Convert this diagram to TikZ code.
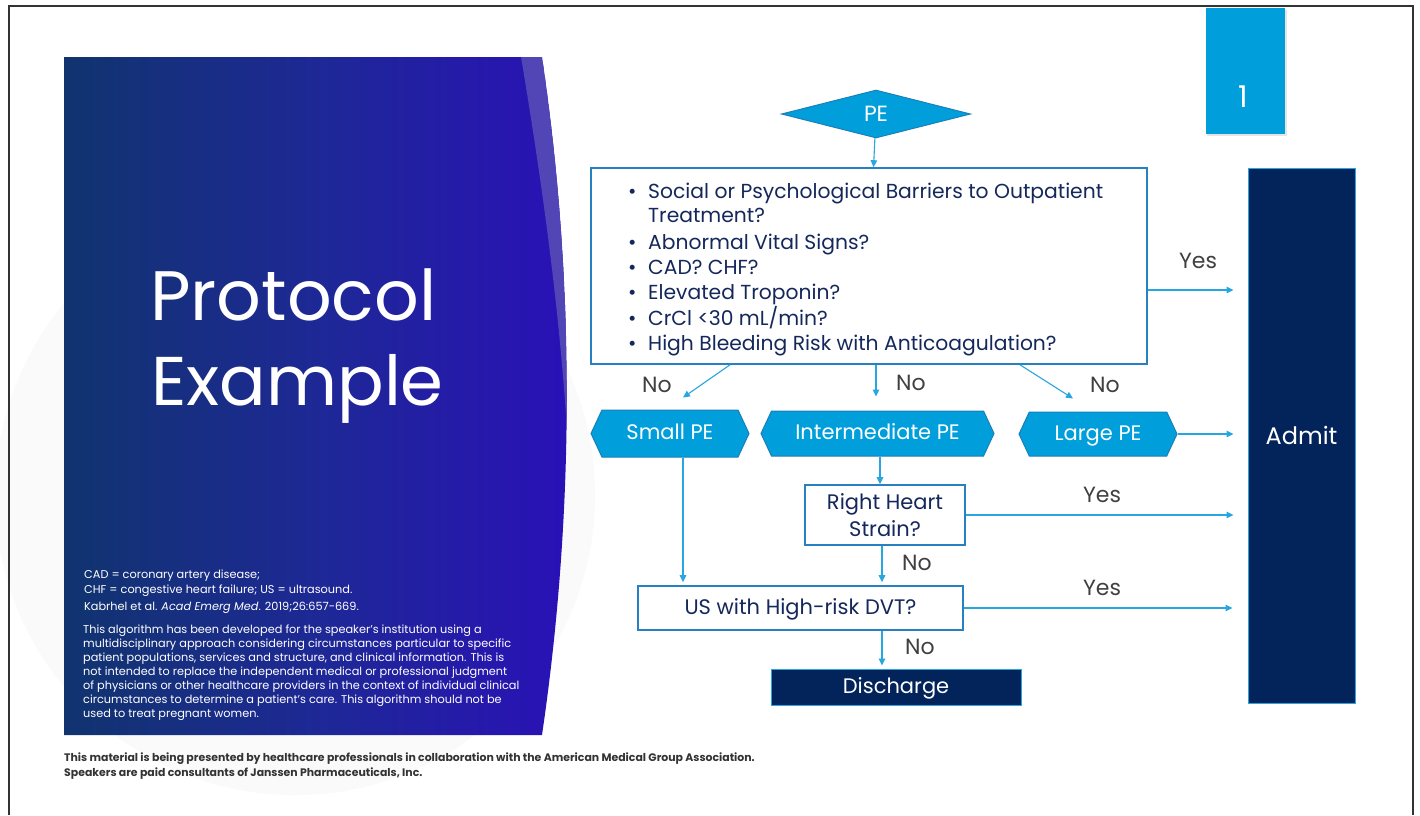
\documentclass[tikz,border=0pt]{standalone}
\usepackage{fontspec}
\setmainfont{Poppins}
\usetikzlibrary{arrows.meta,shapes.geometric,shapes.symbols,calc}

\definecolor{cyanfill}{HTML}{009FDB}
\definecolor{cyanedge}{HTML}{1B7FB8}
\definecolor{boxedge}{HTML}{2680C2}
\definecolor{navy}{HTML}{03245A}
\definecolor{ink}{HTML}{15285C}
\definecolor{arrowc}{HTML}{27A6E0}
\definecolor{labelc}{HTML}{404040}
\definecolor{panelA}{HTML}{11346F}
\definecolor{panelB}{HTML}{1E2896}
\definecolor{panelC}{HTML}{2A10B8}
\definecolor{stripe}{HTML}{5245B5}
\definecolor{footc}{HTML}{333333}

\begin{document}
\begin{tikzpicture}[x=1pt,y=-1pt,
  arr/.style={draw=arrowc, line width=1.1pt, -{Triangle[length=7pt,width=6.5pt]}},
  qbox/.style={draw=boxedge, line width=1.6pt, fill=white, inner sep=0},
  hexa/.style={signal, signal to=west and east, signal pointer angle=130,
    fill=cyanfill, draw=cyanedge, line width=1pt, text=white, inner sep=0,
    text height=15pt, text depth=3pt,
    font=\fontsize{21}{25}\selectfont},
  lbl/.style={text=labelc, font=\fontsize{22}{26}\selectfont, inner sep=0},
  navybox/.style={fill=navy, draw=arrowc, line width=1pt, text=white, inner sep=0},
  qline/.style={anchor=base west, inner sep=0, text=ink, font=\fontsize{20.3}{24}\selectfont},
  small/.style={anchor=base west, inner sep=0, text=white, font=\fontsize{11.3}{14}\selectfont},
  foot/.style={anchor=base west, inner sep=0, text=footc, font=\fontsize{10.9}{13}\bfseries},
]
\useasboundingbox (0,0) rectangle (1420,815);
\fill[white] (0,0) rectangle (1420,815);

% faint glow behind the title panel
\fill[black!2] (295,495) circle (300);

% slide frame
\draw[black!80, line width=1.5pt] (9,815) -- (9,6) -- (1413,6) -- (1413,815);

% title panel with curved right edge
\begin{scope}
  \clip (64,57) -- (542,57) .. controls (575,280) and (575,510) .. (542,735) -- (64,735) -- cycle;
  \shade[left color=panelA, right color=panelC, middle color=panelB] (64,57) rectangle (580,735);
  \fill[stripe] (521,57) .. controls (545,200) and (560,320) .. (567,430)
     .. controls (568,280) and (560,170) .. (542,57) -- cycle;
\end{scope}

% title
\node[anchor=base west, inner sep=0, text=white, font=\fontsize{70}{80}\selectfont] (t1) at (150,320) {Protocol};
\node[anchor=base west, inner sep=0, text=white, font=\fontsize{69}{80}\selectfont] (t2) at (151,405) {Example};

% abbreviations and reference
\node[small] (ab1) at (84,578) {CAD = coronary artery disease;};
\node[small] (ab2) at (84,593) {CHF = congestive heart failure; US = ultrasound.};
\node[small] (ab3) at (84,610) {Kabrhel et al. \textit{Acad Emerg Med}. 2019;26:657-669.};

% disclaimer
\foreach \t [count=\i] in {
  {This algorithm has been developed for the speaker's institution using a},
  {multidisciplinary approach considering circumstances particular to specific},
  {patient populations, services and structure, and clinical information. This is},
  {not intended to replace the independent medical or professional judgment},
  {of physicians or other healthcare providers in the context of individual clinical},
  {circumstances to determine a patient's care. This algorithm should not be},
  {used to treat pregnant women.}}
  \node[small] (disc\i) at (83,619+14*\i) {\t};

% footer
\node[foot] (f1) at (64,761) {This material is being presented by healthcare professionals in collaboration with the American Medical Group Association.};
\node[foot] (f2) at (64,776) {Speakers are paid consultants of Janssen Pharmaceuticals, Inc.};

% slide number tab
\fill[black!10] (1207,10) rectangle (1287,136);
\node[fill=cyanfill, minimum width=79, minimum height=126, inner sep=0] (num) at (1245.5,71) {};
\node[text=white, inner sep=0, font=\fontsize{30}{34}\selectfont] (numt) at (1243,97) {1};

% flowchart nodes
\node[diamond, aspect=3.9, minimum width=189, minimum height=48, inner sep=0,
  fill=cyanfill, draw=cyanedge, line width=1pt, text=white,
  font=\fontsize{22}{26}\selectfont] (pe) at (876,114) {PE};

\node[qbox, minimum width=556, minimum height=196] (q) at (869,266) {};
\foreach \t/\yy in {
  {\makebox[20pt][l]{•}Social or Psychological Barriers to Outpatient}/198,
  {\hspace*{20pt}Treatment?}/222,
  {\makebox[20pt][l]{•}Abnormal Vital Signs?}/249,
  {\makebox[20pt][l]{•}CAD? CHF?}/274,
  {\makebox[20pt][l]{•}Elevated Troponin?}/299,
  {\makebox[20pt][l]{•}CrCl <30 mL/min?}/325,
  {\makebox[20pt][l]{•}High Bleeding Risk with Anticoagulation?}/350}
  \node[qline] (ql\yy) at (628,\yy) {\t};

\node[navybox, minimum width=107, minimum height=535, font=\fontsize{24}{28}\selectfont] (admit) at (1301.5,435.5) {Admit};

\node[hexa, minimum width=158, minimum height=47] (small) at (670,433.5) {Small PE};
\node[hexa, minimum width=233, minimum height=45] (inter) at (877.5,433.5) {Intermediate PE};
\node[hexa, minimum width=158, minimum height=44] (large) at (1098,434) {Large PE};

\node[qbox, minimum width=160, minimum height=60, align=center, text=ink,
  font=\fontsize{21}{27}\selectfont] (rh) at (885,515) {Right Heart\\Strain?};
\node[qbox, minimum width=325, minimum height=44, text=ink,
  text height=15pt, text depth=3pt,
  font=\fontsize{21}{25}\selectfont] (us) at (800.5,608) {US with High-risk DVT?};
\node[navybox, minimum width=250, minimum height=36, text height=15pt, text depth=2pt,
  font=\fontsize{21}{25}\selectfont] (dis) at (896,687) {Discharge};

% connectors
\draw[arr] (pe) -- (q);

\coordinate (y1) at ([yshift=-24pt]q.east);
\draw[arr, shorten >=14pt] (y1) -- (y1 -| admit.west);
\node[lbl] (ly1) at (1198,261) {Yes};

\draw[arr] ([xshift=-139pt]q.south) -- ([xshift=13pt,yshift=12pt]small.north);
\draw[arr] ([xshift=7pt]q.south) -- ([xshift=-1.5pt,yshift=14pt]inter.north);
\draw[arr] ([xshift=151pt]q.south) -- ([xshift=-25pt,yshift=13pt]large.north);
\node[lbl] (ln1) at (657,385) {No};
\node[lbl] (ln2) at (911,383) {No};
\node[lbl] (ln3) at (1105,385) {No};

\draw[arr, shorten >=14pt] (large.east) -- (large.east -| admit.west);

\coordinate (s1) at ([xshift=13pt]small.south);
\draw[arr, shorten >=3pt] (s1) -- (s1 |- us.north);

\coordinate (i1) at ([xshift=2.5pt]inter.south);
\draw[arr] (i1) -- (i1 |- rh.north);

\coordinate (r1) at ([xshift=-3pt]rh.south);
\draw[arr, shorten >=3pt] (r1) -- (r1 |- us.north);
\node[lbl] (ln4) at (917,563) {No};

\draw[arr, shorten >=14pt] (rh.east) -- (rh.east -| admit.west);
\node[lbl] (ly2) at (1102,495) {Yes};

\draw[arr, shorten >=15pt] (us.east) -- (us.east -| admit.west);
\node[lbl] (ly3) at (1102,588) {Yes};

\coordinate (u1) at ([xshift=81.5pt]us.south);
\draw[arr, shorten >=3pt] (u1) -- (u1 |- dis.north);
\node[lbl] (ln5) at (920,647) {No};
\end{tikzpicture}
\end{document}
